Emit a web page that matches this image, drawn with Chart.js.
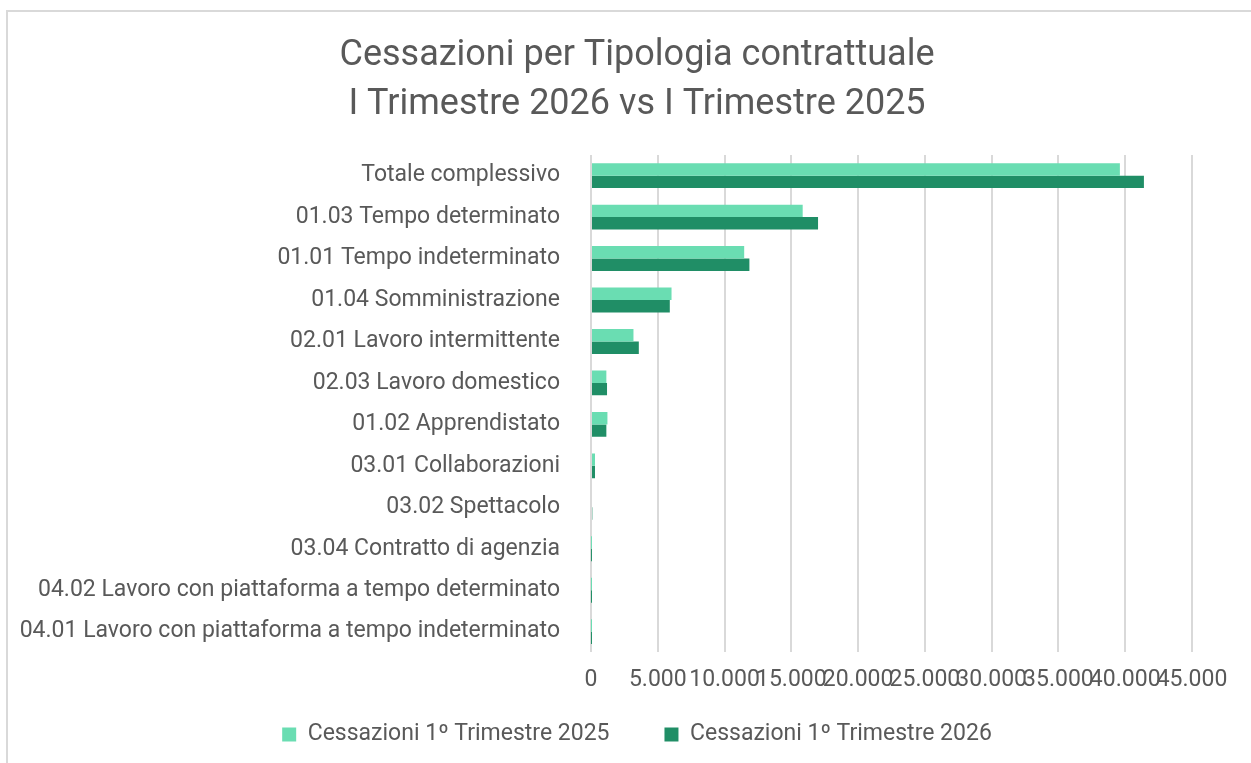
<!DOCTYPE html>
<html>
<head>
<meta charset="utf-8">
<script src="https://cdn.jsdelivr.net/npm/chart.js@4.4.1/dist/chart.umd.min.js"></script>
<style>
  html, body { margin: 0; padding: 0; background: #fff; overflow: hidden; }
  #frame { position: absolute; left: 6px; top: 10px; width: 1262px; height: 760px;
           border-left: 2px solid #D9D9D9; border-top: 2px solid #D9D9D9; box-sizing: border-box; }
  #wrap { position: absolute; left: 0; top: 0; width: 1258px; height: 744px; }
</style>
</head>
<body>
<div id="frame"><div id="wrap"><canvas id="c"></canvas></div></div>
<script>
const categories = [
  "Totale complessivo",
  "01.03 Tempo determinato",
  "01.01 Tempo indeterminato",
  "01.04 Somministrazione",
  "02.01 Lavoro intermittente",
  "02.03 Lavoro domestico",
  "01.02 Apprendistato",
  "03.01 Collaborazioni",
  "03.02 Spettacolo",
  "03.04 Contratto di agenzia",
  "04.02 Lavoro con piattaforma a tempo determinato",
  "04.01 Lavoro con piattaforma a tempo indeterminato"
];
const cessazioni2025 = [39600, 15850, 11470, 6030, 3180, 1150, 1230, 300, 75, 5, 2, 1];
const cessazioni2026 = [41400, 17000, 11860, 5900, 3580, 1200, 1150, 300, 100, 4, 1, 1];
const seriesNames = ["Cessazioni 1º Trimestre 2025", "Cessazioni 1º Trimestre 2026"];
const tickValues = [0, 5000, 10000, 15000, 20000, 25000, 30000, 35000, 40000, 45000];
const tickLabels = ["0", "5.000", "10.000", "15.000", "20.000", "25.000", "30.000", "35.000", "40.000", "45.000"];
const titleLines = ["Cessazioni per Tipologia contrattuale", "I Trimestre 2026 vs I Trimestre 2025"];

const FONT = "Roboto";
const TXT = "#595959";
const PLOT_LEFT = 583, RIGHT_SPACE = 74;

new Chart(document.getElementById("c"), {
  type: "bar",
  data: {
    labels: categories,
    datasets: [
      { label: seriesNames[0], data: cessazioni2025, backgroundColor: "#6ADDB2",
        categoryPercentage: 0.6, barPercentage: 1.0, yAxisID: "y" },
      { label: seriesNames[1], data: cessazioni2026, backgroundColor: "#208E66",
        categoryPercentage: 0.6, barPercentage: 1.0, yAxisID: "y" }
    ]
  },
  options: {
    indexAxis: "y",
    responsive: true,
    maintainAspectRatio: false,
    animation: false,
    layout: { padding: 0 },
    plugins: {
      title: {
        display: true,
        text: titleLines,
        color: TXT,
        font: { family: FONT, size: 36, weight: "normal", lineHeight: 1.36 },
        padding: { top: 20, bottom: 25 }
      },
      legend: {
        position: "bottom",
        labels: {
          color: TXT,
          font: { family: FONT, size: 23 },
          boxWidth: 14, boxHeight: 14,
          padding: 15,
          useBorderRadius: false,
          generateLabels: (chart) => {
            const items = Chart.defaults.plugins.legend.labels.generateLabels(chart);
            items.forEach((it, i) => { if (i < items.length - 1) it.text = it.text + "       "; it.lineWidth = 0; });
            return items;
          }
        }
      },
      tooltip: { enabled: false }
    },
    scales: {
      x: {
        min: 0, max: 45000,
        afterBuildTicks: (s) => { s.ticks = tickValues.map(v => ({ value: v })); },
        ticks: {
          autoSkip: false, maxRotation: 0, minRotation: 0,
          color: TXT, font: { family: FONT, size: 23 }, padding: 14,
          callback: (v, i) => tickLabels[i]
        },
        grid: { color: "#D9D9D9", lineWidth: 2, drawTicks: false },
        border: { display: false }
      },
      y: {
        afterFit: (s) => { s.width = PLOT_LEFT; },
        ticks: { color: TXT, font: { family: FONT, size: 23 }, padding: 23, autoSkip: false },
        grid: { display: false },
        border: { display: false }
      },
      yRight: {
        type: "category",
        axis: "y",
        position: "right",
        afterFit: (s) => { s.width = RIGHT_SPACE; },
        ticks: { display: false },
        grid: { display: false },
        border: { display: false }
      }
    }
  }
});
</script>
</body>
</html>
